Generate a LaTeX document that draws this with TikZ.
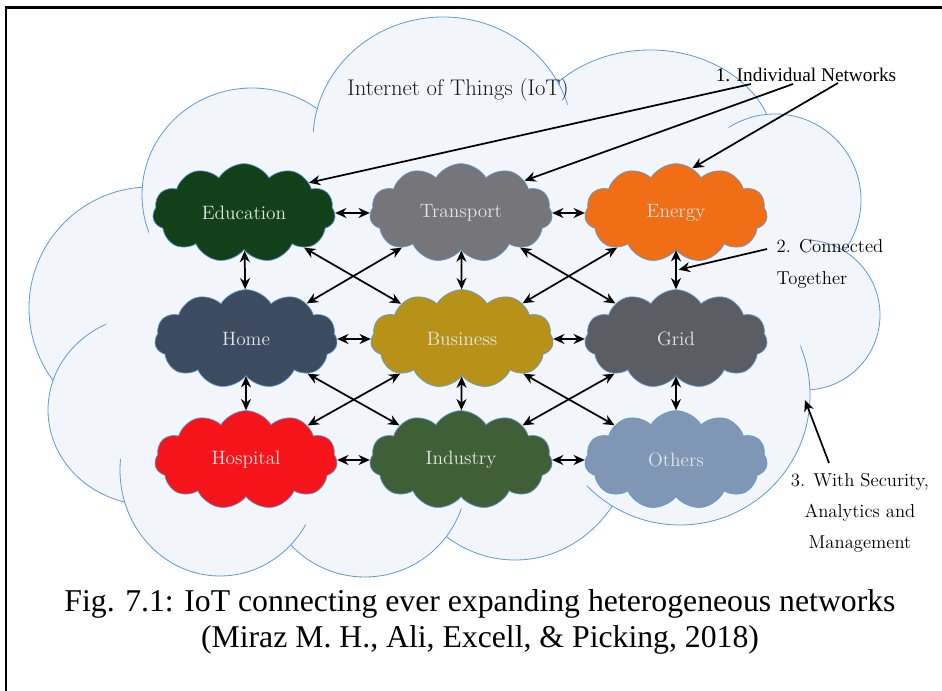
\documentclass[tikz,border=0pt]{standalone}
\usepackage{fontspec}
\newfontfamily\timesfont{Liberation Serif}
\usetikzlibrary{shapes.symbols,arrows.meta}
\definecolor{skyline}{RGB}{91,155,213}
\definecolor{skyfill}{RGB}{242,246,251}
\definecolor{cEdu}{RGB}{18,65,25}
\definecolor{cTrans}{RGB}{118,117,121}
\definecolor{cEnergy}{RGB}{240,110,22}
\definecolor{cHome}{RGB}{60,75,95}
\definecolor{cBus}{RGB}{184,146,24}
\definecolor{cGrid}{RGB}{90,94,100}
\definecolor{cHosp}{RGB}{244,20,25}
\definecolor{cInd}{RGB}{63,96,54}
\definecolor{cOthers}{RGB}{127,151,180}
\begin{document}
\begin{tikzpicture}[x=0.75pt,y=-0.75pt,
  bulge/.style={draw=skyline,fill=skyfill,line width=0.6pt},
  net/.style={cloud,cloud puffs=11,cloud puff arc=118,aspect=1.85,draw=skyline,
    line width=0.5pt,minimum width=137pt,minimum height=74pt,inner sep=0pt,
    text=white!90!black,font=\fontsize{14.5}{16}\selectfont},
  link/.style={{Stealth[length=8.5pt,width=7.5pt]}-{Stealth[length=8.5pt,width=7.5pt]},line width=1.3pt},
  note/.style={-{Stealth[length=8.5pt,width=7.5pt]},line width=1.3pt},
  ]
\useasboundingbox (0,0) rectangle (942,691);
%
% marco
\draw[line width=2.2pt] (6,691) -- (6,7.5) -- (942,7.5);
%
% nube grande: bultos, luego relleno interior
\draw[bulge] (650,150) ellipse [x radius=125,y radius=100];
\draw[bulge] (775,200) circle [radius=86];
\draw[bulge] (805,315) circle [radius=75];
\draw[bulge] (515,430) ellipse [x radius=120,y radius=130];
\draw[bulge] (680,395) circle [radius=130];
\draw[bulge] (365,475) circle [radius=102];
\draw[bulge] (150,308) circle [radius=121];
\draw[bulge] (150,410) ellipse [x radius=102,y radius=95];
\draw[bulge] (220,470) ellipse [x radius=100,y radius=106];
\draw[bulge] (252,195) ellipse [x radius=110,y radius=107];
\draw[bulge] (443,140) ellipse [x radius=130,y radius=123];
\fill[skyfill] (332,124) -- (548,102) -- (746,130) -- (815,253) -- (795,380)
  -- (590,485) -- (448,511) -- (308,525) -- (135,490) -- (82,376) -- (166,197) -- cycle;
%
\node[text=black!90,font=\fontsize{17}{20}\selectfont] (iot) at (458,90) {Internet of Things (IoT)};
%
% redes
\node[net,fill=cEdu] (edu) at (244,213) {Education};
\node[net,fill=cTrans] (trans) at (461,213) {Transport};
\node[net,fill=cEnergy] (energy) at (676,213) {Energy};
\node[net,fill=cHome] (home) at (246,339) {Home};
\node[net,fill=cBus] (bus) at (462,339) {Business};
\node[net,fill=cGrid] (grid) at (676,339) {Grid};
\node[net,fill=cHosp] (hosp) at (246,460) {Hospital};
\node[net,fill=cInd] (ind) at (461,460) {Industry};
\node[net,fill=cOthers] (others) at (676,460) {Others};
%
% enlaces
\draw[link] (edu) -- (trans);
\draw[link] (trans) -- (energy);
\draw[link] (home) -- (bus);
\draw[link] (bus) -- (grid);
\draw[link] (hosp) -- (ind);
\draw[link] (ind) -- (others);
\draw[link] (edu) -- (home);
\draw[link] (home) -- (hosp);
\draw[link] (trans) -- (bus);
\draw[link] (bus) -- (ind);
\draw[link] (energy) -- coordinate[midway] (egmid) (grid);
\draw[link] (grid) -- (others);
\draw[link] (edu) -- (bus);
\draw[link] (trans) -- (home);
\draw[link] (trans) -- (grid);
\draw[link] (energy) -- (bus);
\draw[link] (home) -- (ind);
\draw[link] (bus) -- (hosp);
\draw[link] (bus) -- (others);
\draw[link] (grid) -- (ind);
%
% notas
\node[font=\timesfont\fontsize{14.5}{16}\selectfont] (n1) at (806,75) {1. Individual Networks};
\coordinate (n1a) at (751,84);
\coordinate (n1b) at (793,84);
\coordinate (n1c) at (838,83);
\draw[note] (n1a) -- (edu.25);
\draw[note] (n1b) -- (trans.27);
\draw[note] (n1c) -- (energy.70);
%
\node[anchor=west,align=left,font=\fontsize{14}{24}\selectfont] (n2) at (772,264) {2. Connected\\Together};
\coordinate (n2a) at (767,249);
\draw[note] (n2a) -- ([xshift=2pt]egmid);
%
\node[align=center,font=\fontsize{14}{23.5}\selectfont] (n3) at (860,513) {3. With Security,\\Analytics and\\Management};
\coordinate (n3a) at (829,463);
\coordinate (n3b) at (805,400);
\draw[note] (n3a) -- (n3b);
%
\node[align=center,font=\timesfont\fontsize{23.8}{26.5}\selectfont] (cap) at (480,622)
  {Fig. 7.1: IoT connecting ever expanding heterogeneous networks\\(Miraz M. H., Ali, Excell, \& Picking, 2018)};
%
\end{tikzpicture}
\end{document}
